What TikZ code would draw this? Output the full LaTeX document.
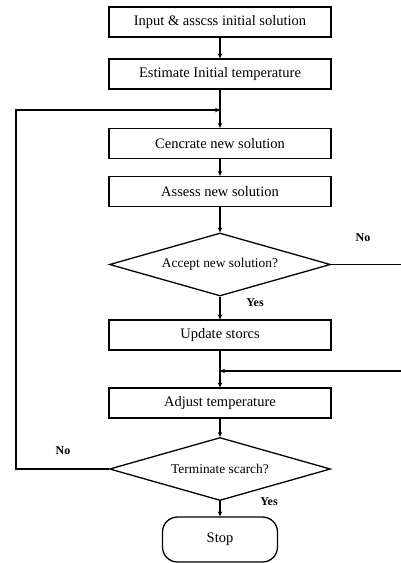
\documentclass[tikz,border=0pt]{standalone}
\usepackage{fontspec}
\setmainfont{Liberation Serif}
\usetikzlibrary{shapes.geometric,arrows.meta}
\begin{document}
\begin{tikzpicture}[x=1pt,y=-1pt,
  box/.style={draw,line width=1.3pt,minimum width=222pt,minimum height=30pt,inner sep=0pt,font=\fontsize{14.5}{17}\selectfont},
  dec/.style={draw,diamond,line width=1.3pt,minimum width=221pt,minimum height=63pt,aspect=3.5,inner sep=0pt,font=\fontsize{13.4}{16}\selectfont},
  term/.style={draw,line width=1.3pt,rounded corners=15pt,minimum width=115pt,minimum height=45pt,inner sep=0pt,font=\fontsize{14.5}{17}\selectfont},
  lab/.style={font=\fontsize{12}{14}\selectfont\bfseries},
  conn/.style={line width=1.2pt},
  arr/.style={conn,-{Stealth[length=5pt,width=4.5pt]}}]
\useasboundingbox (0,0) rectangle (401,563);
\node[box] (b1) at (220,22) {Input \& asscss initial solution};
\node[box] (b2) at (220,74) {Estimate Initial temperature};
\node[box] (b3) at (220,143.5) {Cencrate new solution};
\node[box] (b4) at (220,191.5) {Assess new solution};
\node[dec] (d1) at (220,264.5) {Accept new solution?};
\node[box] (b5) at (220,335) {Update storcs};
\node[box] (b6) at (220,403) {Adjust temperature};
\node[dec] (d2) at (220,469) {Terminate scarch?};
\node[term] (stop) at (220,539.5) {Stop};
\node[lab] (no1) at (363,238) {No};
\node[lab] (yes1) at (255,303) {Yes};
\node[lab] (no2) at (63,451) {No};
\node[lab] (yes2) at (269,502) {Yes};
\coordinate (j1) at (220,110);
\coordinate (l1) at (16,110);
\coordinate (l2) at (16,469);
\coordinate (r1) at (401,264.5);
\coordinate (r2) at (401,371);
\coordinate (j2) at (220,371);
\draw[arr] (b1) -- (b2);
\draw[arr] (b2) -- (b3);
\draw[arr] (b3) -- (b4);
\draw[arr] (b4) -- (d1);
\draw[arr] (d1) -- (b5);
\draw[arr] (b5) -- (b6);
\draw[arr] (b6) -- (d2);
\draw[arr] (d2) -- (stop);
\draw[arr] (d2.west) -- (l2) -- (l1) -- (j1);
\draw[conn] (d1.east) -- (r1);
\draw[arr] (r2) -- (j2);
\end{tikzpicture}
\end{document}
